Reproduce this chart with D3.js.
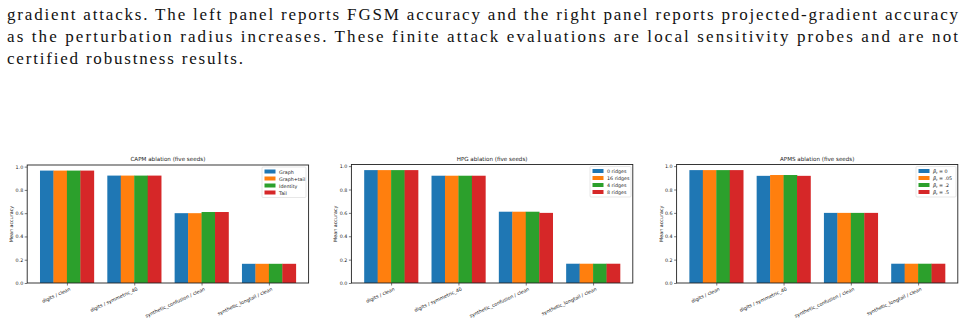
<!DOCTYPE html>
<html>
<head>
<meta charset="utf-8">
<script src="https://cdn.jsdelivr.net/npm/d3@7"></script>
<style>
  body { margin: 0; background: #fff; }
  svg { display: block; }
  .para { font-family: "Liberation Serif", "DejaVu Serif", "Noto Serif", "Times New Roman", serif; }
</style>
</head>
<body>
<svg id="page" width="967" height="323"></svg>
<script>
// paragraph text above the figures
var paraLines = [
  "gradient attacks. The left panel reports FGSM accuracy and the right panel reports projected-gradient accuracy",
  "as the perturbation radius increases. These finite attack evaluations are local sensitivity probes and are not",
  "certified robustness results."
];

// shared categories and ticks
var categories = ["digits / clean", "digits / symmetric_40", "synthetic_confusion / clean", "synthetic_longtail / clean"];
var yTicks = [0, 0.2, 0.4, 0.6, 0.8, 1.0];
var yTickLabels = ["0.0", "0.2", "0.4", "0.6", "0.8", "1.0"];
var colors = ["#1f77b4", "#ff7f0e", "#2ca02c", "#d62728"];

// CAPM panel
var capmTitle = "CAPM ablation (five seeds)";
var capmNames = ["Graph", "Graph+tail", "Identity", "Tail"];
var capmGraph     = [0.966, 0.923, 0.600, 0.165];
var capmGraphTail = [0.966, 0.923, 0.600, 0.165];
var capmIdentity  = [0.966, 0.923, 0.610, 0.165];
var capmTail      = [0.966, 0.923, 0.610, 0.165];

// HPG panel
var hpgTitle = "HPG ablation (five seeds)";
var hpgNames = ["0 ridges", "16 ridges", "4 ridges", "8 ridges"];
var hpg0  = [0.966, 0.918, 0.610, 0.165];
var hpg16 = [0.966, 0.918, 0.610, 0.165];
var hpg4  = [0.966, 0.918, 0.610, 0.165];
var hpg8  = [0.966, 0.918, 0.600, 0.165];

// APMS panel
var apmsTitle = "APMS ablation (five seeds)";
var apmsNames = ["0", ".05", ".2", ".5"];
var apms0  = [0.966, 0.917, 0.600, 0.165];
var apms05 = [0.966, 0.924, 0.600, 0.165];
var apms2  = [0.966, 0.924, 0.600, 0.165];
var apms5  = [0.966, 0.917, 0.600, 0.165];

var svg = d3.select("#page");
var sans = "'DejaVu Sans', sans-serif";

// paragraph
var paraY = [20, 42, 63.5];
var paraEnd = [958, 958, 243];
paraLines.forEach(function(t, i) {
  svg.append("text")
    .attr("class", "para")
    .attr("x", 7)
    .attr("y", paraY[i])
    .attr("textLength", paraEnd[i] - 7)
    .attr("lengthAdjust", "spacing")
    .attr("font-size", 17)
    .attr("fill", "#111")
    .text(t);
});

function drawPanel(p) {
  var g = svg.append("g");
  var x = d3.scaleLinear().domain([-0.59, 3.59]).range([p.left, p.right]);
  var y = d3.scaleLinear().domain([0, 1.014]).range([p.bottom, p.top]);
  var bw = x(0.2) - x(0);

  p.series.forEach(function(vals, j) {
    g.selectAll(null)
      .data(vals)
      .enter()
      .append("rect")
      .attr("x", function(d, i) { return x(i + (j - 2) * 0.2); })
      .attr("y", function(d) { return y(d); })
      .attr("width", bw + 0.3)
      .attr("height", function(d) { return p.bottom - y(d); })
      .attr("fill", colors[j]);
  });

  // y axis
  var ya = g.append("g")
    .attr("transform", "translate(" + p.left + ",0)")
    .call(d3.axisLeft(y).tickValues(yTicks)
      .tickFormat(function(d, i) { return yTickLabels[i]; })
      .tickSize(2.5).tickPadding(1.5));
  ya.select(".domain").remove();
  ya.selectAll("line").attr("stroke", "#222").attr("stroke-width", 0.6);
  ya.selectAll("text").style("font-family", sans).style("font-size", "4.8px").attr("fill", "#222");

  // x axis
  var xa = g.append("g")
    .attr("transform", "translate(0," + p.bottom + ")")
    .call(d3.axisBottom(x).tickValues([0, 1, 2, 3])
      .tickFormat(function(d) { return categories[d]; })
      .tickSize(2.5).tickPadding(2));
  xa.select(".domain").remove();
  xa.selectAll("line").attr("stroke", "#222").attr("stroke-width", 0.6);
  xa.selectAll("text")
    .style("font-family", sans).style("font-size", "4.8px").attr("fill", "#222")
    .style("text-anchor", "end")
    .attr("dy", "0.7em")
    .attr("transform", "rotate(-25)");

  // frame
  g.append("rect")
    .attr("x", p.left).attr("y", p.top)
    .attr("width", p.right - p.left).attr("height", p.bottom - p.top)
    .attr("fill", "none").attr("stroke", "#222").attr("stroke-width", 0.9);

  // title and y label
  g.append("text")
    .attr("x", (p.left + p.right) / 2).attr("y", p.top - 4)
    .attr("text-anchor", "middle")
    .style("font-family", sans).style("font-size", "5.6px").attr("fill", "#222")
    .text(p.title);
  g.append("text")
    .attr("transform", "translate(" + (p.left - 14) + "," + ((p.top + p.bottom) / 2) + ")rotate(-90)")
    .attr("text-anchor", "middle")
    .style("font-family", sans).style("font-size", "4.8px").attr("fill", "#222")
    .text("Mean accuracy");

  // legend
  var lg = g.append("g");
  lg.append("rect")
    .attr("x", p.legX).attr("y", p.top + 2)
    .attr("width", p.legW).attr("height", 30.5)
    .attr("rx", 1)
    .attr("fill", "#fff").attr("fill-opacity", 0.8)
    .attr("stroke", "#d6d6d6").attr("stroke-width", 0.6);
  p.names.forEach(function(n, j) {
    var ry = p.top + 4.5 + j * 7;
    lg.append("rect")
      .attr("x", p.legX + 2.5).attr("y", ry)
      .attr("width", 11).attr("height", 4)
      .attr("fill", colors[j]);
    var t = lg.append("text")
      .attr("x", p.legX + 17).attr("y", ry + 4)
      .style("font-family", sans).style("font-size", "4.8px").attr("fill", "#222");
    if (p.beta) {
      t.append("tspan").style("font-style", "italic").text("β");
      t.append("tspan").attr("dy", 1.2).style("font-size", "3.4px").style("font-style", "italic").text("t");
      t.append("tspan").attr("dy", -1.2).text(" = " + n);
    } else {
      t.text(n);
    }
  });
}

drawPanel({ left: 27.2, right: 308.6, top: 165, bottom: 283, title: capmTitle,
  names: capmNames, series: [capmGraph, capmGraphTail, capmIdentity, capmTail],
  legX: 262, legW: 44 });
drawPanel({ left: 351.4, right: 632.8, top: 164.5, bottom: 283, title: hpgTitle,
  names: hpgNames, series: [hpg0, hpg16, hpg4, hpg8],
  legX: 590, legW: 41 });
drawPanel({ left: 676.6, right: 957.8, top: 164.5, bottom: 283, title: apmsTitle,
  names: apmsNames, series: [apms0, apms05, apms2, apms5],
  legX: 916, legW: 40, beta: true });
</script>
</body>
</html>
